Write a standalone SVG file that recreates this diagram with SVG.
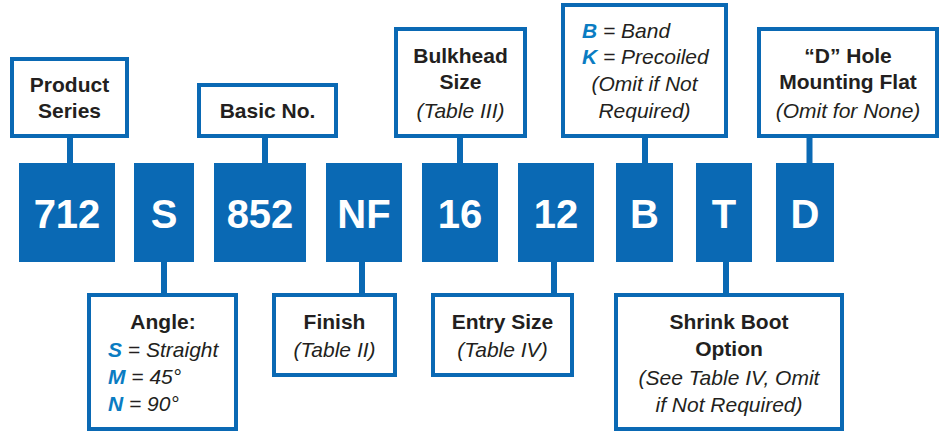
<svg xmlns="http://www.w3.org/2000/svg" width="940" height="432" viewBox="0 0 940 432">
<style>
.box{fill:#fff;stroke:#0a69b4;stroke-width:4}
.blk{fill:#0a69b4}
.big{font-family:"Liberation Sans",Arial,sans-serif;font-weight:bold;font-size:40px;fill:#fff;text-anchor:middle}
.t{font-family:"Liberation Sans",Arial,sans-serif;font-size:21px;fill:#231f20;text-anchor:middle}
.s{text-anchor:start}
.b{font-weight:bold}
.i{font-style:italic}
.k{font-weight:bold;font-style:italic;fill:#0a7cc2}
.con{stroke:#0a69b4;stroke-width:6;fill:none}
</style>
<g id="connectors">
<line class="con" x1="70" y1="136" x2="70" y2="164"/>
<line class="con" x1="265" y1="136" x2="265" y2="164"/>
<line class="con" x1="460" y1="136" x2="460" y2="164"/>
<line class="con" x1="645" y1="136" x2="645" y2="164"/>
<line class="con" x1="809.5" y1="136" x2="809.5" y2="164"/>
<line class="con" x1="164" y1="261" x2="164" y2="296"/>
<line class="con" x1="362" y1="261" x2="362" y2="296"/>
<line class="con" x1="554" y1="261" x2="554" y2="296"/>
<line class="con" x1="726" y1="261" x2="726" y2="296"/>
</g>
<g id="block-712"><rect class="blk" x="19" y="163" width="96" height="99"/><text class="big" x="67" y="228">712</text></g>
<g id="block-S"><rect class="blk" x="134" y="163" width="60" height="99"/><text class="big" x="164" y="228">S</text></g>
<g id="block-852"><rect class="blk" x="214" y="163" width="92" height="99"/><text class="big" x="260" y="228">852</text></g>
<g id="block-NF"><rect class="blk" x="326" y="163" width="76" height="99"/><text class="big" x="364" y="228">NF</text></g>
<g id="block-16"><rect class="blk" x="422" y="163" width="76" height="99"/><text class="big" x="460" y="228">16</text></g>
<g id="block-12"><rect class="blk" x="518" y="163" width="76" height="99"/><text class="big" x="556" y="228">12</text></g>
<g id="block-B"><rect class="blk" x="616" y="163" width="57" height="99"/><text class="big" x="644.5" y="228">B</text></g>
<g id="block-T"><rect class="blk" x="696" y="163" width="56" height="99"/><text class="big" x="724" y="228">T</text></g>
<g id="block-D"><rect class="blk" x="776" y="163" width="58" height="99"/><text class="big" x="805" y="228">D</text></g>

<g id="product-series"><rect class="box" x="12" y="59" width="115" height="77"/>
<text class="t b" x="69.5" y="92">Product</text><text class="t b" x="69.5" y="118">Series</text></g>
<g id="basic-no"><rect class="box" x="199" y="85" width="137" height="51"/>
<text class="t b" x="267.5" y="118">Basic No.</text></g>
<g id="bulkhead-size"><rect class="box" x="396" y="29" width="129" height="107"/>
<text class="t b" x="460.5" y="63">Bulkhead</text><text class="t b" x="460.5" y="89">Size</text><text class="t i" x="460.5" y="118">(Table III)</text></g>
<g id="band-precoiled"><rect class="box" x="563" y="5" width="163" height="131"/>
<text class="t i s" x="582" y="38"><tspan class="k">B</tspan> = Band</text>
<text class="t i s" x="582" y="64"><tspan class="k">K</tspan> = Precoiled</text>
<text class="t i" x="644.5" y="91">(Omit if Not</text>
<text class="t i" x="644.5" y="118">Required)</text></g>
<g id="d-hole"><rect class="box" x="759" y="29" width="178" height="107"/>
<text class="t b" x="848" y="63">“D” Hole</text><text class="t b" x="848" y="89">Mounting Flat</text><text class="t i" x="848" y="118">(Omit for None)</text></g>
<g id="angle"><rect class="box" x="89" y="295" width="147" height="134"/>
<text class="t b" x="163" y="329">Angle:</text>
<text class="t i s" x="108" y="357"><tspan class="k">S</tspan> = Straight</text>
<text class="t i s" x="108" y="384"><tspan class="k">M</tspan> = 45°</text>
<text class="t i s" x="108" y="411"><tspan class="k">N</tspan> = 90°</text></g>
<g id="finish"><rect class="box" x="274" y="295" width="121" height="80"/>
<text class="t b" x="334.5" y="329">Finish</text><text class="t i" x="334.5" y="357">(Table II)</text></g>
<g id="entry-size"><rect class="box" x="433" y="295" width="139" height="80"/>
<text class="t b" x="502.5" y="329">Entry Size</text><text class="t i" x="502.5" y="357">(Table IV)</text></g>
<g id="shrink-boot"><rect class="box" x="616" y="295" width="226" height="134"/>
<text class="t b" x="729" y="329">Shrink Boot</text><text class="t b" x="729" y="356">Option</text>
<text class="t i" x="729" y="385">(See Table IV, Omit</text><text class="t i" x="729" y="412">if Not Required)</text></g>
</svg>
